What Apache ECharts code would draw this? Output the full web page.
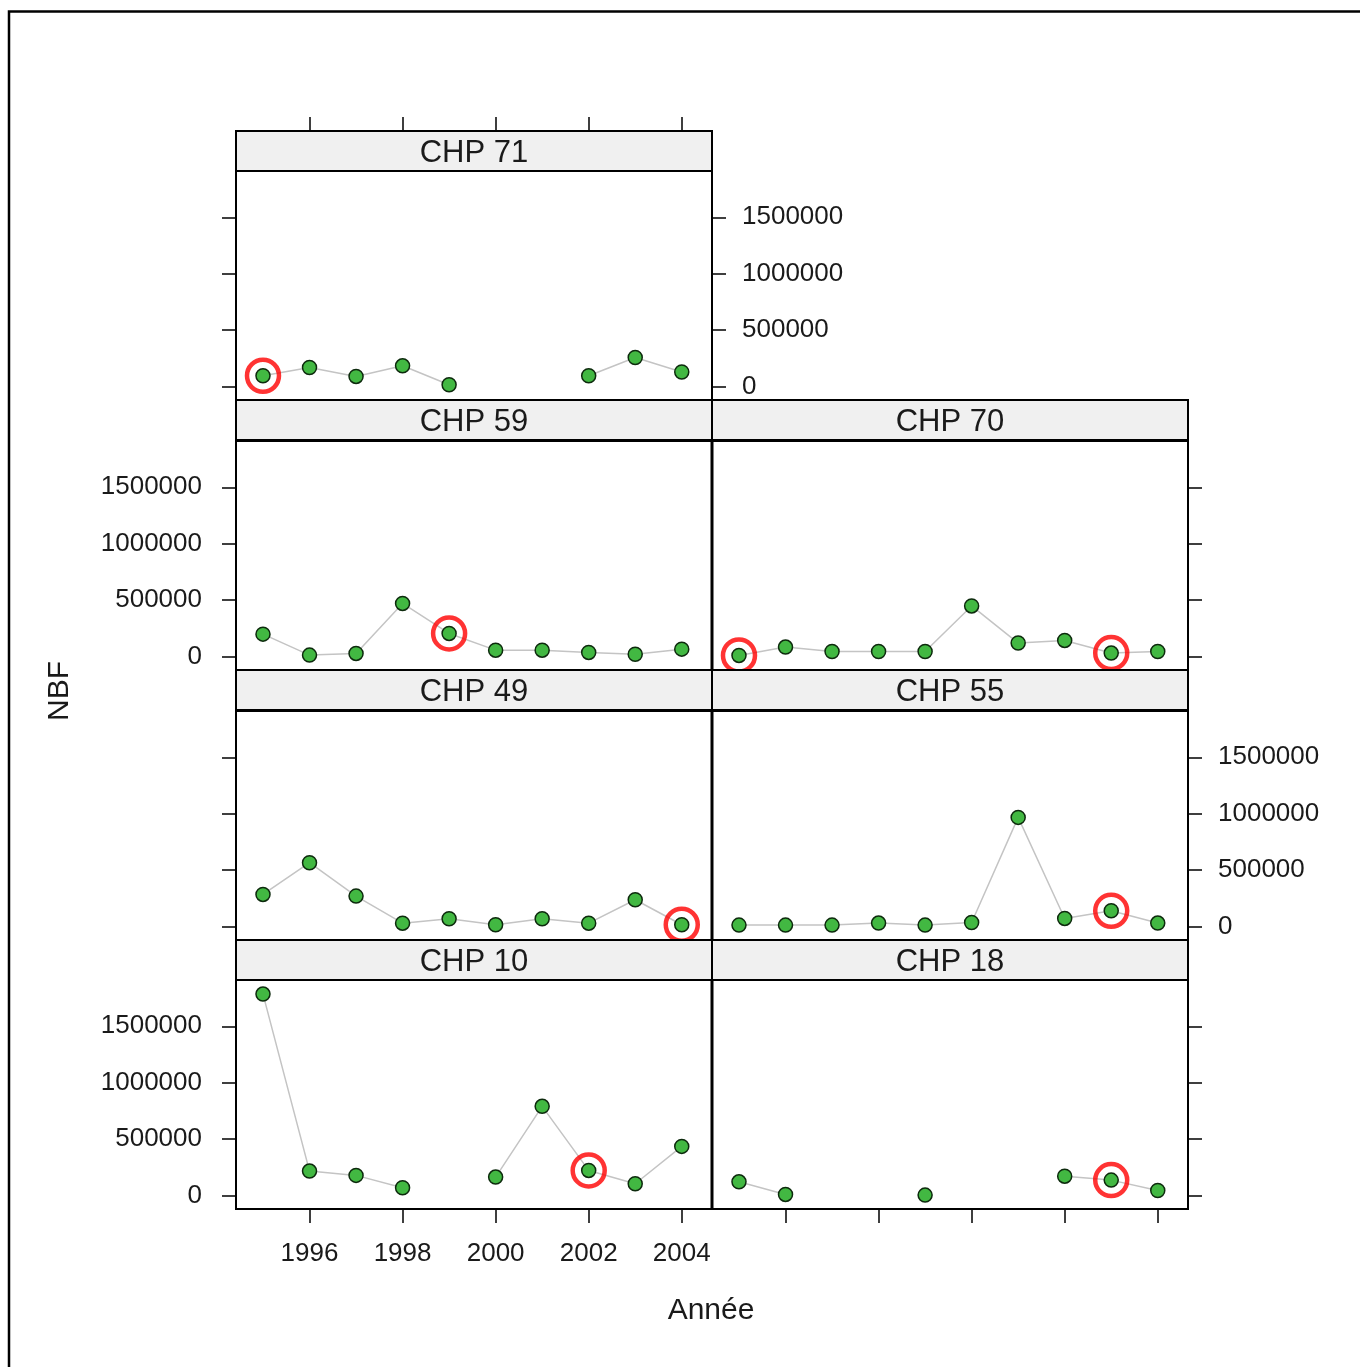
<!DOCTYPE html>
<html>
<head>
<meta charset="utf-8">
<script src="https://cdn.jsdelivr.net/npm/echarts@6/dist/echarts.min.js"></script>
<style>
html,body{margin:0;padding:0;background:#fff;}
#chart{width:1360px;height:1367px;}
</style>
</head>
<body>
<div id="chart"></div>
<script>
// ---- data ----
const years = [1995, 1996, 1997, 1998, 1999, 2000, 2001, 2002, 2003, 2004];
const chp71 = [95000, 168000, 89000, 183000, 15000, null, null, 95000, 257000, 128000];
const chp59 = [198000, 12000, 27000, 470000, 204000, 56000, 56000, 36000, 20000, 65000];
const chp70 = [9000, 83000, 44000, 44000, 44000, 448000, 119000, 142000, 30000, 44000];
const chp49 = [284000, 565000, 269000, 29000, 68000, 15000, 68000, 29000, 237000, 15000];
const chp55 = [12000, 12000, 12000, 30000, 12000, 35000, 967000, 71000, 139000, 30000];
const chp10 = [1785000, 216000, 178000, 68000, null, 163000, 790000, 222000, 104000, 435000];
const chp18 = [121000, 9000, null, null, 3000, null, null, 171000, 136000, 44000];
const panelNames = ['CHP 71', 'CHP 59', 'CHP 70', 'CHP 49', 'CHP 55', 'CHP 10', 'CHP 18'];
const hl71 = [1995];
const hl59 = [1999];
const hl70 = [1995, 2003];
const hl49 = [2004];
const hl55 = [2003];
const hl10 = [2002];
const hl18 = [2003];
const yTicks = [0, 500000, 1000000, 1500000];
const xTicks = [1996, 1998, 2000, 2002, 2004];
const xTitle = 'Année';
const yTitle = 'NBF';

// ---- layout ----
const colLeft = [236, 712];
const plotTop = [171, 441, 711, 980];
const stripTop = [131, 400, 670, 940];
const W = 476, H = 229, STRIP = 40;
const yMin = -120000, yMax = 1910000;
const xMin = 1994.42, xMax = 2004.65;
const FONT = 'Liberation Sans, Arial, sans-serif';
const TXT = '#1a1a1a';

const panels = [
  {v: chp71, col: 0, row: 0, left: 'ticks', right: 'labels', x: 'top', hl: hl71},
  {v: chp59, col: 0, row: 1, left: 'labels', right: 'none', x: 'none', hl: hl59},
  {v: chp70, col: 1, row: 1, left: 'none', right: 'ticks', x: 'none', hl: hl70},
  {v: chp49, col: 0, row: 2, left: 'ticks', right: 'none', x: 'none', hl: hl49},
  {v: chp55, col: 1, row: 2, left: 'none', right: 'labels', x: 'none', hl: hl55},
  {v: chp10, col: 0, row: 3, left: 'labels', right: 'none', x: 'labels', hl: hl10},
  {v: chp18, col: 1, row: 3, left: 'none', right: 'ticks', x: 'ticks', hl: hl18}
];

const grid = [], xAxis = [], yAxis = [], series = [], graphic = [];

function yAx(gi, pos, mode) {
  return {
    type: 'value', gridIndex: gi, position: pos, min: yMin, max: yMax,
    splitLine: {show: false}, axisLine: {show: false, onZero: false},
    axisTick: {show: mode !== 'none', length: 14, inside: false, customValues: yTicks,
      lineStyle: {color: '#000', width: 1.5}},
    axisLabel: {show: mode === 'labels', customValues: yTicks, margin: pos === 'left' ? 34 : 30,
      fontFamily: FONT, fontSize: 26, color: TXT, formatter: v => String(v)}
  };
}

panels.forEach((p, i) => {
  const left = colLeft[p.col], top = plotTop[p.row];
  grid.push({left: left, top: top, width: W, height: H, show: true,
    borderColor: '#000', borderWidth: 2, backgroundColor: '#fff', containLabel: false});
  xAxis.push({
    type: 'value', gridIndex: i, min: xMin, max: xMax,
    position: p.x === 'top' ? 'top' : 'bottom',
    offset: p.x === 'top' ? STRIP : 0,
    splitLine: {show: false}, axisLine: {show: false, onZero: false},
    axisTick: {show: p.x !== 'none', length: 14, customValues: xTicks, lineStyle: {color: '#000', width: 1.5}},
    axisLabel: {show: p.x === 'labels', customValues: xTicks, margin: 32,
      fontFamily: FONT, fontSize: 26, color: TXT, formatter: v => String(v)}
  });
  const yiLeft = yAxis.length;
  yAxis.push(yAx(i, 'left', p.left));
  let yi = yiLeft;
  if (p.right !== 'none' && p.left !== 'none') {
    yAxis.push(yAx(i, 'right', p.right));
  } else if (p.right !== 'none') {
    yAxis[yiLeft] = yAx(i, 'right', p.right);
  }
  const pts = years.map((y, k) => [y, p.v[k]]);
  series.push({
    type: 'line', xAxisIndex: i, yAxisIndex: yi, data: pts, connectNulls: false,
    symbol: 'circle', symbolSize: 14, showSymbol: true,
    lineStyle: {color: '#c4c4c4', width: 1.5},
    itemStyle: {color: '#42b842', borderColor: '#0d2a0d', borderWidth: 1.5},
    emphasis: {disabled: true}, animation: false, z: 3
  });
  const hpts = p.hl.map(y => [y, p.v[years.indexOf(y)]]);
  series.push({
    type: 'scatter', xAxisIndex: i, yAxisIndex: yi, data: hpts,
    symbol: 'circle', symbolSize: 32,
    itemStyle: {color: 'rgba(0,0,0,0)', borderColor: '#ff0000', borderWidth: 4.5},
    emphasis: {disabled: true}, animation: false, z: 5
  });
  graphic.push({type: 'rect', shape: {x: left, y: stripTop[p.row], width: W, height: STRIP},
    style: {fill: '#f0f0f0', stroke: '#000', lineWidth: 2}, z: 10});
  graphic.push({type: 'text', x: left + W / 2, y: stripTop[p.row] + STRIP / 2 + 2,
    style: {text: panelNames[i], font: '31px ' + FONT, fill: TXT, textAlign: 'center', textVerticalAlign: 'middle'}, z: 11});
});

graphic.push({type: 'line', shape: {x1: 712, y1: 441, x2: 712, y2: 1209}, style: {stroke: '#000', lineWidth: 3}, z: 9});
graphic.push({type: 'polyline', shape: {points: [[9, 1367], [9, 11.5], [1360, 11.5]]}, style: {stroke: '#000', lineWidth: 2.5, fill: null}, z: 1});
graphic.push({type: 'text', x: 711, y: 1311, style: {text: xTitle, font: '30px ' + FONT, fill: TXT, textAlign: 'center', textVerticalAlign: 'middle'}});
graphic.push({type: 'text', x: 60, y: 691, rotation: Math.PI / 2, style: {text: yTitle, font: '30px ' + FONT, fill: TXT, textAlign: 'center', textVerticalAlign: 'middle'}});

const chart = echarts.init(document.getElementById('chart'), null, {renderer: 'canvas'});
chart.setOption({animation: false, backgroundColor: '#fff', grid, xAxis, yAxis, series, graphic});
</script>
</body>
</html>
